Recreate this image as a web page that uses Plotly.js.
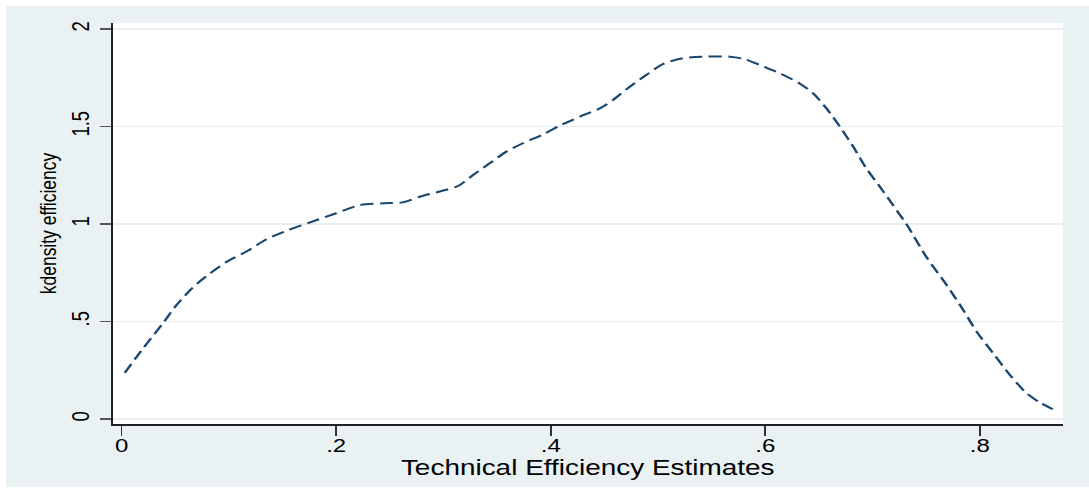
<!DOCTYPE html>
<html><head><meta charset="utf-8">
<script src="https://cdn.plot.ly/plotly-3.0.1.min.js"></script>
<style>
html,body{margin:0;padding:0;background:#fff;width:1089px;height:492px;overflow:hidden;}
#wrap{position:absolute;left:6px;top:6px;width:1083px;height:481px;overflow:hidden;background:#e9f1f3;}
#chart{position:absolute;left:0;top:0;transform-origin:0 0;}
</style></head><body>
<div id="wrap"><div id="chart"></div></div>
<script>
const efficiency = [0.003, 0.020, 0.0385, 0.051, 0.0665, 0.082, 0.0976, 0.119, 0.135, 0.154, 0.175, 0.200, 0.222, 0.244, 0.262, 0.278, 0.2965, 0.3136, 0.3276, 0.343, 0.3587, 0.374, 0.393, 0.408, 0.427, 0.4457, 0.458, 0.4737, 0.489, 0.505, 0.523, 0.545, 0.567, 0.581, 0.595, 0.6135, 0.632, 0.6446, 0.657, 0.6695, 0.682, 0.694, 0.7068, 0.719, 0.7317, 0.750, 0.769, 0.7845, 0.797, 0.8124, 0.828, 0.8436, 0.856, 0.868];
const density = [0.237, 0.362, 0.491, 0.583, 0.675, 0.745, 0.805, 0.867, 0.922, 0.966, 1.007, 1.055, 1.097, 1.106, 1.111, 1.140, 1.167, 1.195, 1.251, 1.311, 1.371, 1.414, 1.460, 1.503, 1.550, 1.593, 1.636, 1.704, 1.764, 1.821, 1.850, 1.858, 1.858, 1.845, 1.815, 1.773, 1.721, 1.670, 1.593, 1.499, 1.396, 1.286, 1.191, 1.097, 0.998, 0.832, 0.687, 0.559, 0.448, 0.337, 0.226, 0.132, 0.084, 0.050];
const xTickVals = [0, 0.2, 0.4, 0.6, 0.8];
const xTickText = ["0", ".2", ".4", ".6", ".8"];
const yTickVals = [0, 0.5, 1, 1.5, 2];
const yTickText = ["0", ".5", "1", "1.5", "2"];
const xTitle = "Technical Efficiency Estimates";
const yTitle = "kdensity efficiency";

const K = 1.3;
const W = 1083 / K, H = 481;
const el = document.getElementById('chart');
el.style.width = W + 'px';
el.style.height = H + 'px';
el.style.transform = 'scaleX(' + K + ')';

const FONT = 'Liberation Sans, Arial, Helvetica, sans-serif';

Plotly.newPlot(el, [{
  x: efficiency, y: density, type: 'scatter', mode: 'lines',
  line: {color: '#1a476f', width: 2, dash: '10px,5px', shape: 'spline', smoothing: 0.8},
  hoverinfo: 'skip', showlegend: false
}], {
  width: W, height: H,
  paper_bgcolor: '#e9f1f3', plot_bgcolor: '#ffffff',
  margin: {l: 107 / K, r: 26 / K, t: 17, b: 63, pad: 0},
  font: {family: FONT, color: '#000'},
  xaxis: {
    range: [-0.00839, 0.87739], tickvals: xTickVals, ticktext: xTickText,
    ticks: 'outside', ticklen: 10, tickwidth: 1.3, tickcolor: '#333',
    showline: true, linecolor: '#222', linewidth: 1.8,
    showgrid: false, zeroline: false,
    tickfont: {size: 18.5, color: '#000'},
    ticklabelstandoff: -6,
    title: {text: xTitle, font: {size: 21.5, color: '#000'}, standoff: 0}
  },
  yaxis: {
    range: [-0.02564, 2.03077], tickvals: yTickVals, ticktext: yTickText,
    ticks: 'outside', ticklen: 11 / K, tickwidth: 1.3, tickcolor: '#555',
    tickangle: -90,
    showline: true, linecolor: '#222', linewidth: 1.4,
    showgrid: true, gridcolor: '#e6eef0', gridwidth: 1.5, zeroline: false,
    tickfont: {size: 18.5, color: '#000'},
    ticklabelstandoff: 1,
    title: {text: yTitle, font: {size: 17.5, color: '#000'}, standoff: 3}
  }
}, {staticPlot: true, displayModeBar: false});
</script>
</body></html>
